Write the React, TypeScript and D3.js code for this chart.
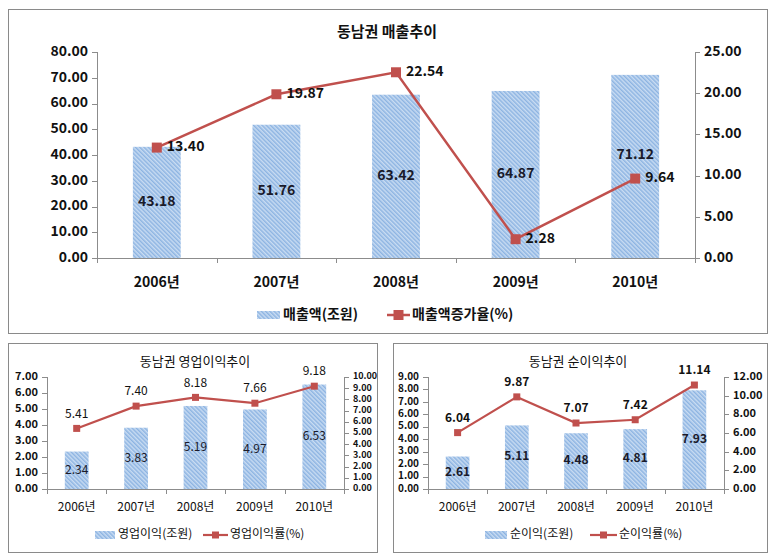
import React from 'react';
import * as d3 from 'd3';

const years = ['2006년', '2007년', '2008년', '2009년', '2010년'];
const salesValues = [43.18, 51.76, 63.42, 64.87, 71.12];
const salesGrowth = [13.4, 19.87, 22.54, 2.28, 9.64];
const opProfit = [2.34, 3.83, 5.19, 4.97, 6.53];
const opMargin = [5.41, 7.4, 8.18, 7.66, 9.18];
const netProfit = [2.61, 5.11, 4.48, 4.81, 7.93];
const netMargin = [6.04, 9.87, 7.07, 7.42, 11.14];

const FONT = '"Noto Sans CJK KR", "Noto Sans", sans-serif';
const RED = '#C0504D';
const AXIS = '#8c8c8c';

type Cfg = {
  id: string;
  box: [number, number, number, number];
  plot: { left: number; right: number; top: number; bottom: number };
  title: string; titleX: number; titleY: number; titleSize: number; titleWeight: number;
  leftMax: number; leftStep: number; rightMax: number; rightStep: number;
  bars: number[]; line: number[];
  tickSize: number; rightTickSize: number; tickWeight: number;
  catY: number; catSize: number; catWeight: number;
  labelSize: number; labelWeight: number;
  lineLabelMode: 'right' | 'above';
  barLabelDy: number[];
  legendY: number; patchX: number; patchW: number; barText: string;
  lineX: number; lineW: number; lineText: string; legendSize: number; legendWeight: number;
  markerSize: number; lineWidth: number;
};

function Combo({ c }: { c: Cfg }) {
  const { plot } = c;
  const x = d3.scaleBand<string>().domain(years).range([plot.left, plot.right]).padding(0);
  const yL = d3.scaleLinear().domain([0, c.leftMax]).range([plot.bottom, plot.top]);
  const yR = d3.scaleLinear().domain([0, c.rightMax]).range([plot.bottom, plot.top]);
  const lTicks = d3.range(0, c.leftMax + c.leftStep / 2, c.leftStep);
  const rTicks = d3.range(0, c.rightMax + c.rightStep / 2, c.rightStep);
  const bw = x.bandwidth() * 0.4;
  const cx = (d: string) => (x(d) as number) + x.bandwidth() / 2;
  const lineGen = d3.line<number>().x((_, i) => cx(years[i])).y((v) => yR(v));
  const ms = c.markerSize;
  return (
    <g fontFamily={FONT}>
      <rect x={c.box[0] + 0.5} y={c.box[1] + 0.5} width={c.box[2] - c.box[0]} height={c.box[3] - c.box[1]} fill="#fff" stroke="#8a8a8a" strokeWidth={1} />
      <text x={c.titleX} y={c.titleY} textAnchor="middle" dominantBaseline="middle" fontSize={c.titleSize} fontWeight={c.titleWeight} fill="#111">{c.title}</text>
      <line x1={plot.left + 0.5} x2={plot.left + 0.5} y1={plot.top} y2={plot.bottom} stroke={AXIS} />
      <line x1={plot.right + 0.5} x2={plot.right + 0.5} y1={plot.top} y2={plot.bottom} stroke={AXIS} />
      <line x1={plot.left} x2={plot.right} y1={plot.bottom + 0.5} y2={plot.bottom + 0.5} stroke={AXIS} />
      {lTicks.map((t) => (
        <g key={'l' + t}>
          <line x1={plot.left - 5} x2={plot.left} y1={Math.round(yL(t)) + 0.5} y2={Math.round(yL(t)) + 0.5} stroke={AXIS} />
          <text x={plot.left - 9} y={yL(t)} textAnchor="end" dominantBaseline="middle" fontSize={c.tickSize} fontWeight={c.tickWeight} fill="#111">{t.toFixed(2)}</text>
        </g>
      ))}
      {rTicks.map((t) => (
        <g key={'r' + t}>
          <line x1={plot.right} x2={plot.right + 5} y1={Math.round(yR(t)) + 0.5} y2={Math.round(yR(t)) + 0.5} stroke={AXIS} />
          <text x={plot.right + 9} y={yR(t)} textAnchor="start" dominantBaseline="middle" fontSize={c.rightTickSize} fontWeight={c.tickWeight} fill="#111">{t.toFixed(2)}</text>
        </g>
      ))}
      {d3.range(0, years.length + 1).map((i) => {
        const xx = Math.round(plot.left + i * x.step()) + 0.5;
        return <line key={'xt' + i} x1={xx} x2={xx} y1={plot.bottom} y2={plot.bottom + 5} stroke={AXIS} />;
      })}
      {years.map((d) => (
        <text key={'c' + d} x={cx(d)} y={c.catY} textAnchor="middle" dominantBaseline="middle" fontSize={c.catSize} fontWeight={c.catWeight} fill="#111">{d}</text>
      ))}
      {c.bars.map((v, i) => (
        <rect key={'b' + i} x={cx(years[i]) - bw / 2} y={yL(v)} width={bw} height={plot.bottom - yL(v)} fill={`url(#hatch-${c.id})`} />
      ))}
      {c.bars.map((v, i) => (
        <text key={'bl' + i} x={cx(years[i])} y={(yL(v) + plot.bottom) / 2 + (c.barLabelDy[i] || 0)} textAnchor="middle" dominantBaseline="middle" fontSize={c.labelSize} fontWeight={c.labelWeight} fill="#1a1a2a">{v.toFixed(2)}</text>
      ))}
      <path d={lineGen(c.line) || ''} fill="none" stroke={RED} strokeWidth={c.lineWidth} />
      {c.line.map((v, i) => (
        <rect key={'m' + i} x={cx(years[i]) - ms / 2} y={yR(v) - ms / 2} width={ms} height={ms} fill={RED} />
      ))}
      {c.line.map((v, i) =>
        c.lineLabelMode === 'right' ? (
          <text key={'ll' + i} x={cx(years[i]) + ms / 2 + 5} y={yR(v)} textAnchor="start" dominantBaseline="middle" fontSize={c.labelSize} fontWeight={c.labelWeight} fill="#111">{v.toFixed(2)}</text>
        ) : (
          <text key={'ll' + i} x={cx(years[i])} y={yR(v) - 14} textAnchor="middle" dominantBaseline="middle" fontSize={c.labelSize} fontWeight={c.labelWeight} fill="#111">{v.toFixed(2)}</text>
        )
      )}
      <rect x={c.patchX} y={c.legendY - 4} width={c.patchW} height={8} fill={`url(#hatch-${c.id})`} />
      <text x={c.patchX + c.patchW + 3} y={c.legendY} dominantBaseline="middle" fontSize={c.legendSize} fontWeight={c.legendWeight} fill="#111">{c.barText}</text>
      <line x1={c.lineX} x2={c.lineX + c.lineW} y1={c.legendY} y2={c.legendY} stroke={RED} strokeWidth={c.lineWidth} />
      <rect x={c.lineX + c.lineW / 2 - ms / 2} y={c.legendY - ms / 2} width={ms} height={ms} fill={RED} />
      <text x={c.lineX + c.lineW + 2} y={c.legendY} dominantBaseline="middle" fontSize={c.legendSize} fontWeight={c.legendWeight} fill="#111">{c.lineText}</text>
    </g>
  );
}

const top: Cfg = {
  id: 'a', box: [8, 9, 767, 333], plot: { left: 97, right: 695, top: 52, bottom: 258 },
  title: '동남권 매출추이', titleX: 387, titleY: 33, titleSize: 15, titleWeight: 700,
  leftMax: 80, leftStep: 10, rightMax: 25, rightStep: 5, bars: salesValues, line: salesGrowth,
  tickSize: 14, rightTickSize: 14, tickWeight: 700, catY: 283, catSize: 14, catWeight: 700,
  labelSize: 14, labelWeight: 700, lineLabelMode: 'right', barLabelDy: [0, 0, 0, 0, -11],
  legendY: 315, patchX: 257, patchW: 23, barText: '매출액(조원)', lineX: 387, lineW: 23,
  lineText: '매출액증가율(%)', legendSize: 14, legendWeight: 700, markerSize: 10, lineWidth: 2.5,
};

const bl: Cfg = {
  id: 'b', box: [8, 343, 377, 552], plot: { left: 47, right: 344, top: 377, bottom: 489 },
  title: '동남권 영업이익추이', titleX: 195, titleY: 362, titleSize: 13, titleWeight: 400,
  leftMax: 7, leftStep: 1, rightMax: 10, rightStep: 1, bars: opProfit, line: opMargin,
  tickSize: 11, rightTickSize: 9, tickWeight: 600, catY: 508, catSize: 12, catWeight: 400,
  labelSize: 12, labelWeight: 400, lineLabelMode: 'above', barLabelDy: [0, 0, 0, 0, 0],
  legendY: 535, patchX: 95, patchW: 20, barText: '영업이익(조원)', lineX: 203, lineW: 25,
  lineText: '영업이익률(%)', legendSize: 12, legendWeight: 400, markerSize: 7, lineWidth: 2.2,
};

const br: Cfg = {
  id: 'c', box: [393, 343, 767, 552], plot: { left: 428, right: 724, top: 377, bottom: 489 },
  title: '동남권 순이익추이', titleX: 578, titleY: 362, titleSize: 13, titleWeight: 400,
  leftMax: 9, leftStep: 1, rightMax: 12, rightStep: 2, bars: netProfit, line: netMargin,
  tickSize: 10, rightTickSize: 11, tickWeight: 600, catY: 508, catSize: 12, catWeight: 400,
  labelSize: 12, labelWeight: 600, lineLabelMode: 'above', barLabelDy: [0, 0, 0, 0, 0],
  legendY: 535, patchX: 485, patchW: 22, barText: '순이익(조원)', lineX: 590, lineW: 27,
  lineText: '순이익률(%)', legendSize: 12, legendWeight: 400, markerSize: 7, lineWidth: 2.2,
};

export default function App() {
  return (
    <svg width={779} height={560} style={{ position: 'absolute', left: 0, top: 0, background: '#fff' }}>
      <defs>
        {['a', 'b', 'c'].map((id) => (
          <pattern key={id} id={`hatch-${id}`} width={3} height={3} patternUnits="userSpaceOnUse" patternTransform="rotate(-45)">
            <rect width={3} height={3} fill="#C9DCF2" />
            <rect width={1.5} height={3} fill="#8DB4E2" />
          </pattern>
        ))}
      </defs>
      <rect width={779} height={560} fill="#fff" />
      <Combo c={top} />
      <Combo c={bl} />
      <Combo c={br} />
    </svg>
  );
}
